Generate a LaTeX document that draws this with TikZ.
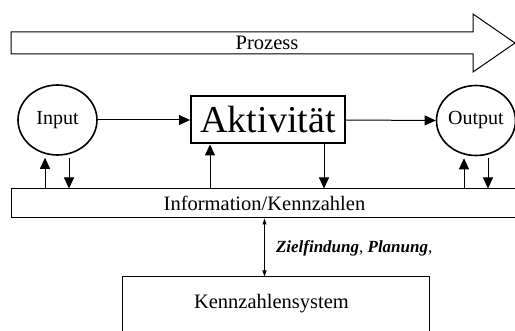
\documentclass[tikz,border=0pt]{standalone}
\usepackage{fontspec}
\setmainfont{Liberation Serif}
\usetikzlibrary{shapes.geometric,arrows.meta,calc}
\begin{document}
\begin{tikzpicture}[x=1pt,y=-1pt,
  arr/.style={line width=1pt,-{Triangle[length=11pt,width=10pt]}},
  darr/.style={line width=1pt,{Triangle[length=6pt,width=4pt]}-{Triangle[length=6pt,width=4pt]}},
  circ/.style={ellipse,draw,line width=1.6pt,inner sep=0pt,minimum width=79pt,minimum height=70pt,font=\fontsize{20}{24}\selectfont},
  plainbox/.style={rectangle,draw,line width=1pt,inner sep=0pt},
  txt/.style={font=\fontsize{20.5}{24}\selectfont,inner sep=0pt}]
\useasboundingbox (0,0) rectangle (515,331);
\clip (0,0) rectangle (515,331);
% Prozess arrow
\draw[line width=1pt] (11,32) -- (473,32) -- (473,14) -- (515,43) -- (473,72) -- (473,54) -- (11,54) -- cycle;
\node[txt] (prozess) at (267,43) {Prozess};
% main row
\node[circ] (input) at (57.5,120) {Input};
\node[rectangle,draw,line width=2pt,minimum width=154pt,minimum height=47pt,inner sep=0pt,font=\fontsize{38}{42}\selectfont] (akt) at (268,120) {Aktivität};
\node[circ] (output) at (476,120.5) {Output};
\draw[arr] (input.east) -- (akt.west);
\draw[arr] (akt.east) -- (output.west);
% info bar
\node[plainbox,minimum width=507pt,minimum height=29pt,txt] (info) at (264.5,203.5) {Information/Kennzahlen};
% vertical arrows
\draw[arr] ([xshift=-12.5pt]input.south |- info.north) -- ([xshift=-12.5pt,yshift=-2pt]input.south);
\draw[arr] ([xshift=11.5pt,yshift=-2pt]input.south) -- ([xshift=11.5pt]input.south |- info.north);
\draw[arr] ([xshift=-58pt]akt.south |- info.north) -- ([xshift=-58pt]akt.south);
\draw[arr] ([xshift=56pt]akt.south) -- ([xshift=56pt]akt.south |- info.north);
\draw[arr] ([xshift=-12pt]output.south |- info.north) -- ([xshift=-12pt,yshift=-2pt]output.south);
\draw[arr] ([xshift=12pt,yshift=-2pt]output.south) -- ([xshift=12pt]output.south |- info.north);
% Kennzahlensystem
\node[plainbox,minimum width=307pt,minimum height=70pt] (ksys) at (275.5,312) {};
\node[txt] (ksystxt) at (271.5,304) {Kennzahlensystem};
\draw[darr] (info.south) -- (info.south |- ksys.north)
  node[midway,right,xshift=11pt,yshift=-1pt,inner sep=0pt,font=\fontsize{17}{20}\selectfont] (ziel) {\textbf{\textit{Zielfindung}}, \textbf{\textit{Planung}}\textit{,}};
\end{tikzpicture}
\end{document}
